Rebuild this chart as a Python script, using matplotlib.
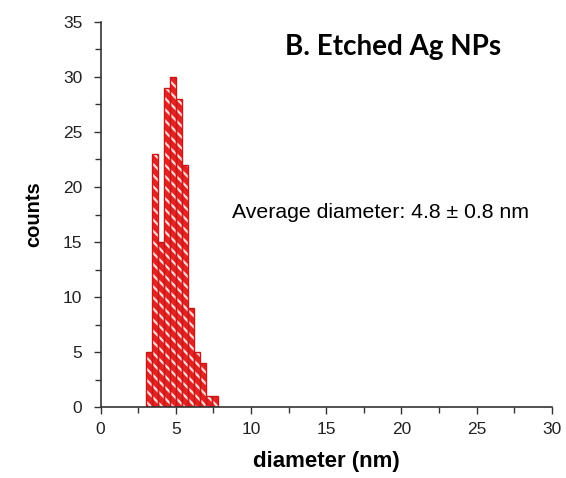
import numpy as np
import matplotlib
matplotlib.use("Agg")
import matplotlib.pyplot as plt
from matplotlib.ticker import MultipleLocator

# histogram bins (nm) and counts
bin_left = [3.0, 3.4, 3.8, 4.2, 4.6, 5.0, 5.4, 5.8, 6.2, 6.6, 7.0, 7.4]
bin_width = 0.4
counts = [5, 23, 15, 29, 30, 28, 22, 9, 5, 4, 1, 1]

title = "B. Etched Ag NPs"
note = "Average diameter: 4.8 \u00b1 0.8 nm"
xticks = [0, 5, 10, 15, 20, 25, 30]
yticks = [0, 5, 10, 15, 20, 25, 30, 35]

plt.rcParams['font.family'] = ['Liberation Sans', 'DejaVu Sans']
plt.rcParams['hatch.linewidth'] = 1.6

fig = plt.figure(figsize=(5.66, 4.78), dpi=100)
ax = fig.add_axes([0.1776, 0.1485, 0.7974, 0.8055])

red = '#e52222'
# red fill with white hatch, then red outline on top
ax.bar(bin_left, counts, width=bin_width, align='edge',
       facecolor=red, edgecolor='#ffd8d8', hatch='\\\\\\', linewidth=0)
ax.bar(bin_left, counts, width=bin_width, align='edge',
       facecolor='none', edgecolor='#c81818', linewidth=1.0)

ax.set_xlim(0, 30)
ax.set_ylim(0, 35)
ax.set_xticks(xticks)
ax.set_yticks(yticks)
ax.xaxis.set_minor_locator(MultipleLocator(2.5))
ax.yaxis.set_minor_locator(MultipleLocator(2.5))
ax.tick_params(which='major', direction='out', length=5, width=1,
               labelsize=12.5, color='#333333', labelcolor='#222222')
ax.tick_params(which='minor', direction='out', length=4, width=1,
               color='#333333')
ax.tick_params(axis='y', pad=8)
ax.tick_params(axis='x', pad=6)

for s in ['top', 'right']:
    ax.spines[s].set_visible(False)
for s in ['left', 'bottom']:
    ax.spines[s].set_linewidth(1.2)
    ax.spines[s].set_color('#333333')

ax.set_xlabel('diameter (nm)', fontsize=16, fontweight='bold', labelpad=10)
ax.set_ylabel('counts', fontsize=14.5, fontweight='bold', labelpad=14)

fig.text(0.885, 0.902, title, fontsize=20, fontweight='bold',
         family=['Lato', 'DejaVu Sans'], ha='right', va='center')
fig.text(0.41, 0.556, note, fontsize=15.3, ha='left', va='center')

fig.savefig('out.png', dpi=100)
